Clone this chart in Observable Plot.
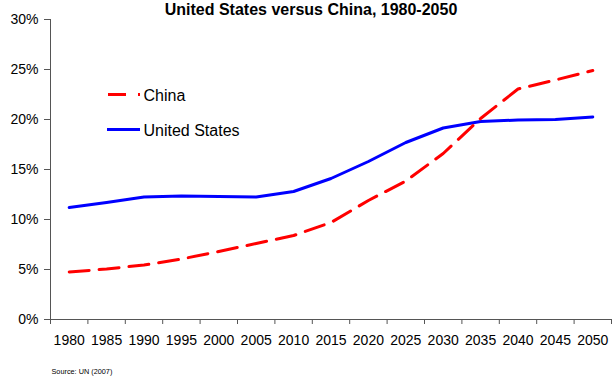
<!DOCTYPE html>
<html><head><meta charset="utf-8">
<script src="https://cdn.jsdelivr.net/npm/d3@7"></script>
<script src="https://cdn.jsdelivr.net/npm/@observablehq/plot@0.6"></script>
<style>
body{margin:0;background:#fff}
#wrap{position:relative;width:612px;height:377px;overflow:hidden;font-family:"Liberation Sans",Arial,sans-serif}
#overlay{position:absolute;left:0;top:0;pointer-events:none}
</style></head><body><div id="wrap"></div>
<script>
const years = [1980, 1985, 1990, 1995, 2000, 2005, 2010, 2015, 2020, 2025, 2030, 2035, 2040, 2045, 2050];
const usValues = [11.2, 11.7, 12.25, 12.35, 12.3, 12.25, 12.8, 14.1, 15.8, 17.7, 19.15, 19.8, 19.95, 20.0, 20.25];
const chinaValues = [4.75, 5.05, 5.45, 6.05, 6.8, 7.6, 8.4, 9.7, 11.9, 13.85, 16.6, 20.1, 23.05, 23.95, 24.9];
const yTicks = [0, 5, 10, 15, 20, 25, 30];
const seriesNames = ["China", "United States"];
const titleText = "United States versus China, 1980-2050";
const sourceText = "Source: UN (2007)";

const half = (years[1] - years[0]) / 2;
const boundaries = years.map(y => y - half).concat([years[years.length - 1] + half]);
const chinaData = years.map((y, i) => ({year: y, value: chinaValues[i]}));
const usData = years.map((y, i) => ({year: y, value: usValues[i]}));
const font = "'Liberation Sans', Arial, sans-serif";
const axisColor = "#555";

const chart = Plot.plot({
  width: 612, height: 377,
  marginLeft: 50, marginRight: 1, marginTop: 19, marginBottom: 58,
  style: {fontFamily: font, fontSize: "14px", color: "#000", background: "white"},
  x: {type: "linear", domain: [boundaries[0], boundaries[boundaries.length - 1]]},
  y: {domain: [0, 30]},
  marks: [
    Plot.axisX({ticks: boundaries, tickSize: 5, tickFormat: () => "", stroke: axisColor, label: null}),
    Plot.axisX({ticks: years, tickSize: 0, tickPadding: 16, tickFormat: d => String(d), fill: "#000", fontSize: 14, label: null}),
    Plot.axisY({ticks: yTicks, tickSize: 6, tickPadding: 6, tickFormat: d => d + "%", stroke: axisColor, fill: "#000", fontSize: 14, label: null}),
    Plot.ruleY([0], {stroke: axisColor}),
    Plot.ruleX([boundaries[0]], {stroke: axisColor}),
    Plot.line(usData, {x: "year", y: "value", stroke: "#0000FF", strokeWidth: 3, strokeLinejoin: "round"}),
    Plot.line(chinaData, {x: "year", y: "value", stroke: "#FF0000", strokeWidth: 3, strokeDasharray: "20,10", strokeLinejoin: "round"})
  ]
});
const wrap = document.getElementById("wrap");
wrap.appendChild(chart);

const ns = "http://www.w3.org/2000/svg";
const ov = document.createElementNS(ns, "svg");
ov.setAttribute("id", "overlay");
ov.setAttribute("width", 612);
ov.setAttribute("height", 377);
ov.style.fontFamily = font;
function txt(s, x, y, size, opts = {}) {
  const t = document.createElementNS(ns, "text");
  t.setAttribute("x", x); t.setAttribute("y", y);
  t.setAttribute("font-size", size);
  for (const k in opts) t.setAttribute(k, opts[k]);
  t.textContent = s;
  ov.appendChild(t);
}
function ln(x1, x2, y, color, dash) {
  const l = document.createElementNS(ns, "line");
  l.setAttribute("x1", x1); l.setAttribute("x2", x2);
  l.setAttribute("y1", y); l.setAttribute("y2", y);
  l.setAttribute("stroke", color); l.setAttribute("stroke-width", 3);
  if (dash) l.setAttribute("stroke-dasharray", dash);
  ov.appendChild(l);
}
txt(titleText, 311, 15, 16, {"text-anchor": "middle", "font-weight": "bold"});
ln(108, 140, 94.5, "#FF0000", "18,12");
txt(seriesNames[0], 143.5, 101, 16);
ln(107, 140, 129.5, "#0000FF");
txt(seriesNames[1], 143.5, 135.5, 16);
txt(sourceText, 51.5, 374, 7.3);
wrap.appendChild(ov);
</script></body></html>
